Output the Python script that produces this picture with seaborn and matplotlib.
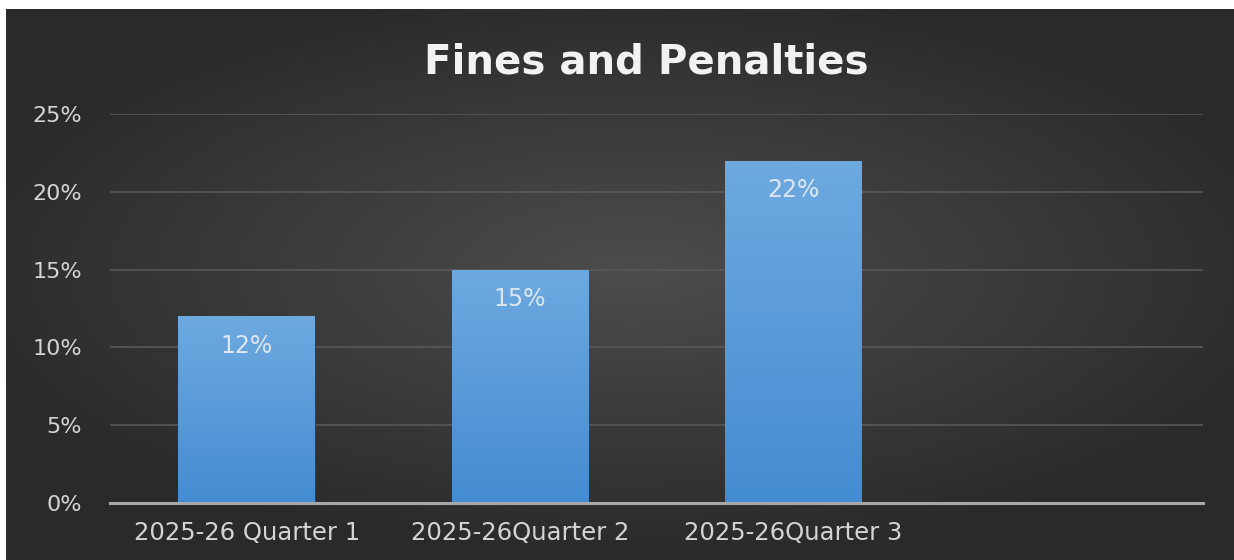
import numpy as np
import pandas as pd
import matplotlib
matplotlib.use("Agg")
import matplotlib.pyplot as plt
import matplotlib.patheffects as pe
import seaborn as sns
from matplotlib.ticker import FuncFormatter

# Data
categories = ["2025-26 Quarter 1", "2025-26Quarter 2", "2025-26Quarter 3"]
values = [12, 15, 22]
y_ticks = [0, 5, 10, 15, 20, 25]
title = "Fines and Penalties"

df = pd.DataFrame({"quarter": categories, "share": values})

sns.set_theme(style="dark")
plt.rcParams["font.family"] = ["DejaVu Sans"]

W, H = 1234, 560
fig = plt.figure(figsize=(W / 100, H / 100), dpi=100, facecolor="white")

# Dark radial-gradient backdrop
bg = fig.add_axes([6 / W, 0, 1 - 6 / W, (H - 9) / H])
bg.set_axis_off()
gx, gy = np.meshgrid(np.linspace(-1, 1, 600), np.linspace(-1, 1, 300))
r = np.sqrt(((gx - 0.02) / 1.1) ** 2 + ((gy + 0.05) / 1.0) ** 2)
shade = np.clip(0.30 - 0.13 * r, 0.165, 0.30)
bg.imshow(np.dstack([shade] * 3), aspect="auto", extent=[0, 1, 0, 1],
          interpolation="bicubic")
bg.set_xlim(0, 1)
bg.set_ylim(0, 1)

# Plot area
x0, x1 = 110, 1203
y_top, y_bot = 114, 503
ax = fig.add_axes([x0 / W, (H - y_bot) / H, (x1 - x0) / W, (y_bot - y_top) / H])
ax.patch.set_alpha(0)

sns.barplot(data=df, x="quarter", y="share", color="#5b9bd5", width=0.5,
            ax=ax, zorder=3, saturation=1)

ax.set_xlim(-0.5, 3.5)
ax.set_ylim(0, 25)
ax.set_yticks(y_ticks)
ax.yaxis.set_major_formatter(FuncFormatter(lambda v, _: f"{v:.0f}%"))
ax.grid(axis="y", color="#585858", linewidth=1.2, zorder=0)
ax.grid(axis="x", visible=False)
ax.set_xlabel("")
ax.set_ylabel("")
for s in ["top", "right", "left"]:
    ax.spines[s].set_visible(False)
ax.spines["bottom"].set_color("#a8a8a8")
ax.spines["bottom"].set_linewidth(2.2)
ax.spines["bottom"].set_zorder(5)
ax.tick_params(axis="both", length=0, colors="#d4d4d4")
ax.tick_params(axis="x", pad=13, labelsize=17.5)
ax.tick_params(axis="y", pad=20, labelsize=16)

# Vertical gradient fill inside each bar
grad = np.linspace(0, 1, 256).reshape(-1, 1)
top_c = np.array([0x6e, 0xa9, 0xe0]) / 255
bot_c = np.array([0x44, 0x8c, 0xd2]) / 255
cols = (top_c * (1 - grad)[..., None] + bot_c * grad[..., None]).reshape(256, 1, 3)
for p, v in zip(ax.patches, values):
    bx, bw = p.get_x(), p.get_width()
    p.set_edgecolor("#2a3a4a")
    p.set_linewidth(0.6)
    p.set_path_effects([pe.SimplePatchShadow(offset=(0, 0), shadow_rgbFace="#1a1a1a",
                                             alpha=0.6), pe.Normal()])
    im = ax.imshow(cols, extent=[bx, bx + bw, 0, v], aspect="auto", zorder=3.5,
                   origin="upper")
    im.set_clip_path(p)
    ax.text(bx + bw / 2, v - 1.9, f"{v}%", ha="center", va="center",
            color="#dce6f2", fontsize=17, zorder=6)

ax.set_xlim(-0.5, 3.5)
ax.set_ylim(0, 25)

fig.text(646 / W, (H - 62) / H, title, ha="center", va="center",
         color="#f2f2f2", fontsize=29, fontweight="bold")

fig.savefig("out.png", dpi=100, facecolor="white")
